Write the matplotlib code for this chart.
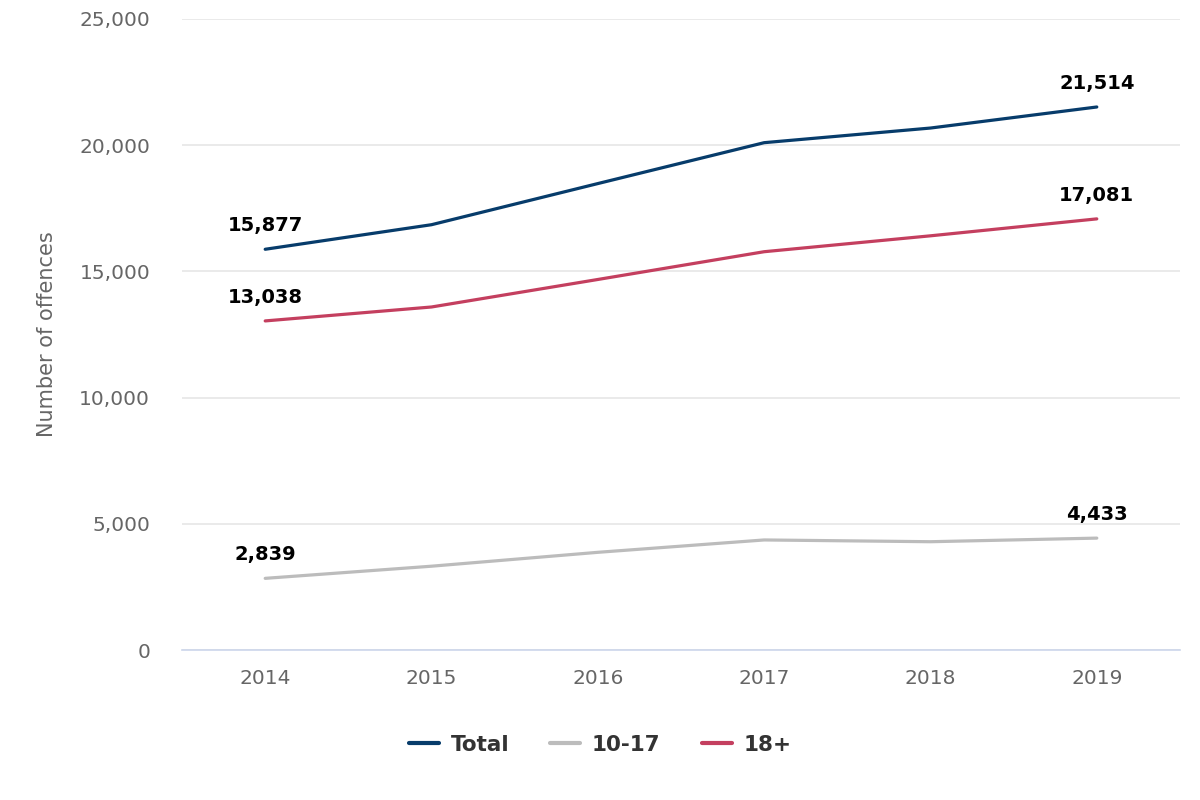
import matplotlib.pyplot as plt
from matplotlib.ticker import FuncFormatter

years = ["2014", "2015", "2016", "2017", "2018", "2019"]
total = [15877, 16850, 18480, 20100, 20680, 21514]
youth = [2839, 3320, 3870, 4360, 4290, 4433]
adult = [13038, 13590, 14680, 15780, 16410, 17081]

series = [("Total", total, "#073c6b"), ("10-17", youth, "#bcbcbc"), ("18+", adult, "#c43f5f")]

fig = plt.figure(figsize=(12, 8), dpi=100)
ax = fig.add_axes([0.1517, 0.1875, 0.8316, 0.78875])

x = range(len(years))
for name, vals, col in series:
    ax.plot(x, vals, color=col, lw=2.3, label=name, solid_capstyle="round")
    for i in (0, len(vals) - 1):
        ax.annotate(f"{vals[i]:,}", (i, vals[i]), xytext=(0, 10), textcoords="offset points",
                    ha="center", va="bottom", fontsize=14, fontweight="bold", color="#000000")

ax.set_xlim(-0.5, len(years) - 0.5)
ax.set_ylim(0, 25000)
ax.set_yticks(range(0, 25001, 5000))
ax.yaxis.set_major_formatter(FuncFormatter(lambda v, p: f"{int(v):,}"))
ax.set_xticks(list(x))
ax.set_xticklabels(years)
ax.tick_params(length=0, labelsize=14.5, labelcolor="#666666")
ax.tick_params(axis="y", pad=23)
ax.tick_params(axis="x", pad=14)
ax.grid(axis="y", color="#e6e6e6", lw=1.2)
ax.set_axisbelow(True)
for s in ["top", "right", "left"]:
    ax.spines[s].set_visible(False)
ax.spines["bottom"].set_color("#ccd6eb")
ax.spines["bottom"].set_linewidth(1.2)
ax.set_ylabel("Number of offences", fontsize=15, color="#666666", labelpad=16)

leg = fig.legend(loc="center", bbox_to_anchor=(0.5, 0.069), ncol=3, frameon=False,
                 prop={"size": 15.5, "weight": "bold"}, handlelength=1.4, columnspacing=1.9,
                 handletextpad=0.55)
for t in leg.get_texts():
    t.set_color("#333333")
for h in leg.get_lines():
    h.set_linewidth(3)

fig.savefig("out.png", dpi=100)
